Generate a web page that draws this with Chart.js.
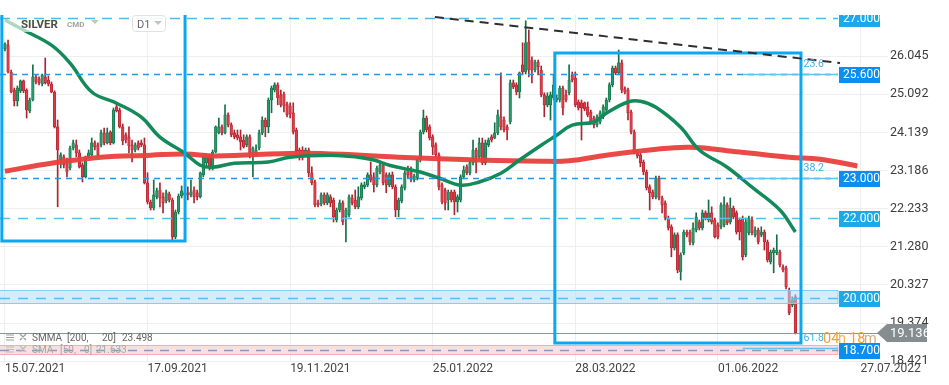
<!DOCTYPE html>
<html>
<head>
<meta charset="utf-8">
<script src="https://cdn.jsdelivr.net/npm/chart.js@4.4.1/dist/chart.umd.min.js"></script>
<style>
  html, body { margin: 0; padding: 0; background: #fff; }
  #wrap { width: 949px; height: 385px; }
</style>
</head>
<body>
<div id="wrap"><canvas id="chart" width="949" height="385"></canvas></div>
<script>
// x axis: candle index, date labels at some of them
const dateLabels = ['15.07.2021', '17.09.2021', '19.11.2021', '25.01.2022', '28.03.2022', '01.06.2022', '27.07.2022'];
const dateIdx = [0, 46, 92, 138, 184, 230, 276];
const priceTicks = [26.045, 25.092, 24.139, 23.186, 22.233, 21.280, 20.327, 19.374, 18.421];

// daily candles
const open = [
  26.23, 26.33, 25.65, 25.20, 24.93, 25.18, 25.43, 25.20, 24.68, 24.95,
  25.53, 25.48, 25.35, 25.53, 25.45, 25.35, 25.15, 24.28, 23.45, 23.53,
  23.45, 23.25, 23.75, 23.83, 23.63, 23.33, 23.03, 23.53, 23.58, 23.88,
  23.83, 23.83, 24.13, 23.88, 24.15, 23.88, 24.78, 24.70, 24.28, 24.08,
  24.03, 23.83, 23.70, 23.88, 23.88, 23.83, 22.88, 22.40, 22.25, 22.53,
  22.70, 22.53, 22.43, 22.60, 22.45, 21.53, 22.15, 22.55, 22.63, 22.63,
  22.58, 22.70, 22.63, 22.53, 23.08, 23.38, 23.53, 23.25, 23.65, 24.13,
  24.28, 24.13, 24.58, 24.33, 24.13, 24.08, 24.03, 23.95, 23.83, 24.03,
  23.58, 23.63, 23.75, 24.13, 24.45, 24.28, 24.95, 25.20, 25.33, 25.08,
  25.10, 24.85, 24.80, 24.63, 24.20, 23.70, 23.70, 23.58, 23.70, 23.13,
  22.90, 22.38, 22.35, 22.58, 22.38, 22.53, 22.45, 21.95, 22.20, 22.38,
  22.03, 22.08, 22.50, 22.45, 22.28, 22.50, 22.78, 22.83, 23.08, 23.03,
  22.83, 23.15, 23.33, 23.08, 22.83, 23.08, 22.78, 22.20, 22.43, 22.75,
  23.20, 23.15, 22.95, 23.00, 23.45, 24.15, 24.50, 24.28, 24.03, 23.83,
  23.58, 22.83, 22.70, 22.45, 22.65, 22.65, 22.40, 22.45, 23.03, 23.28,
  23.13, 23.38, 23.70, 23.53, 23.88, 23.38, 23.83, 24.03, 24.00, 24.13,
  24.53, 24.45, 24.28, 24.40, 25.38, 25.33, 25.15, 25.83, 25.65, 26.40,
  25.95, 25.70, 25.90, 25.70, 25.08, 24.83, 24.83, 25.00, 24.95, 24.95,
  25.25, 25.08, 25.13, 25.58, 25.50, 24.90, 24.88, 24.88, 24.78, 24.65,
  24.50, 24.33, 24.40, 24.53, 24.70, 24.95, 25.33, 25.75, 25.63, 25.88,
  25.23, 25.20, 24.65, 24.15, 23.65, 23.58, 23.40, 23.15, 22.78, 22.65,
  22.53, 23.00, 22.50, 22.38, 22.00, 21.78, 21.25, 21.58, 20.65, 21.13,
  21.65, 21.65, 21.38, 21.70, 21.90, 21.75, 22.13, 21.95, 22.13, 21.95,
  21.83, 21.78, 21.83, 22.33, 21.90, 22.25, 22.13, 21.95, 22.00, 21.08,
  21.63, 21.95, 21.58, 21.70, 21.58, 21.65, 21.40, 20.90, 21.13, 21.13,
  21.15, 20.78, 20.75, 20.20, 19.83, 20.03
];
const close = [
  26.35, 25.65, 25.15, 24.93, 25.25, 25.43, 25.18, 24.70, 24.95, 25.53,
  25.40, 25.38, 25.58, 25.38, 25.35, 25.15, 24.28, 23.70, 23.58, 23.33,
  23.15, 23.75, 23.88, 23.63, 23.28, 23.03, 23.53, 23.63, 23.88, 23.78,
  23.58, 24.13, 23.88, 24.13, 23.88, 24.70, 24.68, 24.28, 23.93, 23.95,
  23.80, 23.70, 23.83, 23.75, 23.83, 22.88, 22.40, 22.25, 22.58, 22.68,
  22.50, 22.38, 22.63, 22.45, 21.53, 22.15, 22.55, 22.68, 22.58, 22.58,
  22.65, 22.53, 22.53, 23.13, 23.53, 23.53, 23.25, 23.65, 24.28, 24.28,
  24.13, 24.58, 24.33, 24.08, 24.03, 24.00, 23.90, 23.78, 24.03, 23.58,
  23.75, 23.70, 24.13, 24.45, 24.28, 24.95, 25.25, 25.33, 25.00, 24.83,
  24.80, 24.58, 24.60, 24.15, 23.68, 23.65, 23.58, 23.70, 23.13, 22.88,
  22.33, 22.33, 22.58, 22.38, 22.58, 22.38, 22.03, 22.20, 22.38, 21.90,
  22.20, 22.53, 22.38, 22.28, 22.53, 22.83, 22.83, 23.08, 22.95, 22.83,
  23.25, 23.33, 22.88, 22.83, 23.08, 22.78, 22.20, 22.45, 22.78, 23.13,
  23.08, 23.00, 23.05, 23.45, 24.15, 24.50, 24.20, 24.00, 23.78, 23.58,
  22.78, 22.40, 22.38, 22.65, 22.45, 22.40, 22.53, 23.03, 23.20, 23.13,
  23.38, 23.70, 23.53, 23.88, 23.38, 23.88, 23.95, 23.95, 24.13, 24.58,
  24.28, 24.20, 24.20, 25.38, 25.28, 25.15, 25.63, 25.65, 26.38, 25.70,
  25.70, 25.90, 25.78, 25.08, 24.83, 25.05, 25.08, 25.33, 25.00, 25.25,
  24.75, 24.95, 25.45, 25.45, 24.83, 24.75, 24.75, 24.73, 24.58, 24.40,
  24.33, 24.53, 24.63, 24.78, 24.95, 25.33, 25.75, 25.63, 25.88, 25.20,
  25.15, 24.63, 24.15, 23.65, 23.55, 23.38, 23.15, 22.75, 22.63, 22.53,
  23.00, 22.50, 22.33, 22.00, 21.75, 21.25, 21.58, 20.70, 21.08, 21.65,
  21.58, 21.40, 21.75, 22.03, 21.75, 22.13, 22.00, 22.13, 21.90, 21.53,
  21.53, 22.33, 22.33, 21.88, 22.25, 22.03, 21.65, 21.65, 21.03, 21.90,
  22.00, 21.63, 21.70, 21.40, 21.65, 21.40, 20.95, 21.15, 21.20, 21.20,
  20.83, 20.70, 20.28, 19.63, 19.95, 19.136
];
const high = [
  26.38, 26.45, 25.70, 25.25, 25.30, 25.45, 25.45, 25.23, 25.00, 25.83,
  25.58, 25.53, 25.60, 26.00, 25.55, 25.40, 25.18, 24.45, 23.63, 23.58,
  23.50, 23.80, 23.95, 23.95, 23.70, 23.38, 23.55, 23.70, 24.00, 23.93,
  23.88, 24.20, 24.25, 24.25, 24.18, 24.75, 24.83, 24.75, 24.35, 24.13,
  24.28, 23.95, 23.88, 23.93, 23.95, 24.00, 23.13, 22.45, 22.95, 22.75,
  22.88, 22.63, 22.70, 22.65, 22.50, 22.20, 22.60, 22.80, 22.70, 22.78,
  22.95, 22.78, 22.70, 23.15, 23.58, 23.58, 23.58, 23.70, 24.30, 24.50,
  24.33, 24.83, 24.63, 24.38, 24.20, 24.20, 24.20, 24.08, 24.08, 24.08,
  23.78, 23.83, 24.20, 24.53, 24.50, 25.00, 25.30, 25.38, 25.38, 25.20,
  25.15, 24.90, 24.88, 24.88, 24.25, 23.75, 23.78, 23.75, 23.75, 23.28,
  22.95, 22.45, 22.63, 22.63, 22.63, 22.58, 22.50, 22.25, 22.45, 22.43,
  22.25, 22.58, 22.58, 22.70, 22.78, 22.88, 22.90, 23.13, 23.40, 23.13,
  23.30, 23.40, 23.38, 23.13, 23.13, 23.15, 22.83, 22.50, 22.83, 23.18,
  23.30, 23.28, 23.10, 23.50, 24.20, 24.70, 24.55, 24.33, 24.08, 23.88,
  23.63, 22.88, 22.75, 22.70, 22.70, 22.70, 22.58, 23.08, 23.30, 23.33,
  23.45, 23.95, 23.75, 24.00, 24.00, 23.95, 24.00, 24.08, 24.38, 24.70,
  25.63, 24.53, 24.33, 25.45, 25.45, 25.38, 25.65, 26.38, 26.93, 26.70,
  26.03, 25.95, 25.95, 25.80, 25.13, 25.13, 25.15, 25.58, 25.08, 25.30,
  25.30, 25.20, 25.83, 25.65, 25.65, 24.95, 24.95, 24.90, 24.90, 24.70,
  24.55, 24.58, 24.68, 24.83, 25.00, 25.38, 25.80, 25.80, 26.20, 25.95,
  25.28, 25.25, 24.70, 24.20, 23.70, 23.63, 23.45, 23.20, 22.83, 22.70,
  23.05, 23.05, 22.55, 22.43, 22.05, 21.83, 21.63, 21.63, 21.13, 21.70,
  21.70, 21.70, 21.88, 22.13, 21.95, 22.20, 22.18, 22.45, 22.28, 22.00,
  21.88, 22.38, 22.53, 22.38, 22.50, 22.30, 22.18, 22.00, 22.05, 22.00,
  22.05, 22.03, 21.78, 21.75, 21.78, 21.70, 21.45, 21.20, 21.25, 21.58,
  21.20, 20.83, 20.80, 20.25, 20.03, 20.08
];
const low = [
  26.18, 25.63, 25.13, 24.80, 24.80, 25.13, 25.13, 24.50, 24.63, 24.93,
  25.35, 25.33, 25.30, 25.35, 25.30, 25.13, 24.25, 22.28, 23.25, 23.25,
  23.03, 23.20, 23.70, 23.53, 23.25, 22.90, 23.00, 23.50, 23.55, 23.70,
  23.53, 23.78, 23.83, 23.85, 23.83, 23.85, 24.65, 24.25, 23.83, 23.88,
  23.63, 23.40, 23.65, 23.70, 23.78, 22.85, 22.35, 22.20, 22.20, 22.48,
  22.28, 22.13, 22.38, 22.40, 21.45, 21.48, 22.10, 22.50, 22.53, 22.45,
  22.53, 22.38, 22.45, 22.50, 23.03, 23.28, 23.20, 23.20, 23.63, 24.10,
  24.08, 24.10, 24.28, 24.03, 23.98, 23.95, 23.70, 23.75, 23.78, 23.50,
  23.03, 23.55, 23.70, 24.08, 24.03, 24.13, 24.63, 25.15, 24.83, 24.78,
  24.65, 24.53, 24.50, 24.10, 23.58, 23.45, 23.45, 23.53, 23.03, 22.83,
  22.28, 22.28, 22.30, 22.33, 22.33, 22.28, 21.90, 21.90, 22.15, 21.83,
  21.40, 22.03, 22.33, 22.23, 22.23, 22.45, 22.73, 22.78, 22.90, 22.65,
  22.78, 23.10, 22.83, 22.63, 22.78, 22.73, 22.03, 22.03, 22.38, 22.70,
  23.00, 22.90, 22.90, 22.95, 23.40, 24.10, 24.15, 23.95, 23.58, 23.53,
  22.70, 22.35, 22.20, 22.20, 22.40, 22.08, 22.15, 22.40, 22.98, 23.08,
  23.08, 23.33, 23.13, 23.48, 23.33, 23.33, 23.78, 23.90, 23.98, 24.08,
  24.20, 24.15, 23.95, 24.35, 25.23, 25.08, 25.00, 25.58, 25.60, 25.53,
  25.38, 25.65, 25.58, 25.03, 24.53, 24.78, 24.45, 24.95, 24.90, 24.90,
  24.58, 24.90, 25.08, 25.40, 24.78, 24.70, 23.95, 24.68, 24.53, 24.35,
  24.25, 24.28, 24.35, 24.48, 24.65, 24.90, 25.28, 25.58, 25.58, 25.13,
  25.10, 24.45, 24.10, 23.60, 23.50, 23.28, 23.08, 22.70, 22.20, 22.48,
  22.48, 22.45, 22.13, 21.95, 21.70, 21.03, 21.20, 20.63, 20.45, 21.08,
  21.53, 21.33, 21.33, 21.65, 21.70, 21.70, 21.95, 21.90, 21.85, 21.50,
  21.48, 21.73, 21.78, 21.83, 21.85, 21.98, 21.60, 21.45, 20.95, 21.03,
  21.58, 21.58, 21.53, 21.35, 21.53, 21.20, 20.90, 20.85, 20.63, 21.08,
  20.78, 20.65, 20.23, 19.58, 19.78, 19.10
];

// SMA 50 and SMMA 200 (shifted 20 bars), sampled along the drawn curves
const smaIdx = [0, 6, 15, 21, 28, 36, 44, 50, 58, 63, 67, 74, 85, 92, 105, 114, 119, 124, 131, 134, 140, 147, 153, 160, 166, 173, 178, 183, 190, 194, 201, 205, 210, 218, 224, 233, 241, 250, 255];
const smaVal = [26.95, 26.70, 26.32, 25.87, 25.15, 24.87, 24.52, 24.02, 23.62, 23.32, 23.27, 23.37, 23.40, 23.52, 23.57, 23.52, 23.45, 23.32, 23.20, 23.15, 23.00, 22.82, 22.90, 23.12, 23.45, 23.82, 24.07, 24.32, 24.40, 24.62, 24.90, 24.92, 24.77, 24.27, 23.70, 23.27, 22.77, 22.20, 21.65];
const smmaIdx = [0, 15, 31, 47, 58, 68, 95, 115, 127, 153, 173, 182, 194, 208, 221, 237, 253, 263, 275];
const smmaVal = [23.17, 23.37, 23.52, 23.57, 23.60, 23.55, 23.62, 23.57, 23.52, 23.45, 23.42, 23.43, 23.57, 23.70, 23.77, 23.65, 23.52, 23.47, 23.30];

// drawings on the chart
const levels = [27.0, 25.6, 23.0, 22.0, 20.0, 18.7];
const zone20 = [19.85, 20.2];
const zone187 = [18.575, 18.825];
const fibNames = ['23.6', '38.2', '61.8'];
const fibVals = [25.59, 23.01, 18.75];
const fibStart = 238;
const trendIdx = [138.7, 269.4];
const trendVal = [27.025, 25.875];
const boxIdx = [[-1, 58.1], [177.4, 256.8]];
const boxVal = [[21.425, 27.6], [18.875, 26.125]];
const lastPrice = 19.136;
const smmaLegend = ['SMMA', '[200,', '20]', '23.498'];
const smaLegend = ['SMA', '[50,', '0]', '21.633'];

const GREEN = '#27996a', GREEN_D = '#146f47';
const RED = '#de3c46', RED_D = '#ad2330';
const up = i => close[i] >= open[i];

const bodies = open.map((o, i) => ({ x: i, y: [o, close[i]] }));
const wicks = open.map((o, i) => ({ x: i, y: [low[i], high[i]] }));
const smaPts = smaIdx.map((v, k) => ({ x: v, y: smaVal[k] }));
const smmaPts = smmaIdx.map((v, k) => ({ x: v, y: smmaVal[k] }));

const levelStyle = [
  { line: '#52b9ef', dash: [10, 7], box: '#1ea8ec' },
  { line: '#2b95dc', dash: [6, 5], box: '#0b8df2' },
  { line: '#2b95dc', dash: [6, 5], box: '#0b8df2' },
  { line: '#56bff2', dash: [10, 8], box: '#1ea8ec' },
  { line: '#56bff2', dash: [10, 8], box: '#1ea8ec' },
  { line: '#8d9bbb', dash: [9, 7], box: '#0b8df2' }
];

const overlay = {
  id: 'overlay',
  afterDatasetsDraw(chart) {
    const { ctx, chartArea: a, scales: { x, y } } = chart;
    const lineEnd = a.right - 42;
    ctx.save();
    ctx.beginPath();
    ctx.rect(a.left, a.top, a.right - a.left, a.bottom - a.top);
    ctx.clip();

    // faded area behind the instrument title
    ctx.fillStyle = 'rgba(255,255,255,0.65)';
    ctx.fillRect(0, a.top, 62, 17);

    // zones
    const zone = (z, fill, edge) => {
      const y0 = y.getPixelForValue(z[1]), y1 = y.getPixelForValue(z[0]);
      ctx.fillStyle = fill;
      ctx.fillRect(a.left, y0, lineEnd - a.left, y1 - y0);
      ctx.strokeStyle = edge;
      ctx.lineWidth = 1;
      ctx.strokeRect(a.left - 1, y0 + 0.5, lineEnd - a.left + 1, y1 - y0 - 1);
    };
    zone(zone20, 'rgba(176,221,247,0.55)', 'rgba(130,203,242,0.9)');
    zone(zone187, 'rgba(249,205,209,0.65)', 'rgba(240,168,176,0.9)');

    // current price line
    const py = y.getPixelForValue(lastPrice);
    ctx.strokeStyle = '#8c959a';
    ctx.lineWidth = 1;
    ctx.beginPath();
    ctx.moveTo(a.left, Math.round(py) + 0.5);
    ctx.lineTo(a.right, Math.round(py) + 0.5);
    ctx.stroke();

    // level lines
    levels.forEach((v, k) => {
      const p = Math.round(y.getPixelForValue(v)) + 0.5;
      ctx.strokeStyle = levelStyle[k].line;
      ctx.lineWidth = 1.3;
      ctx.setLineDash(levelStyle[k].dash);
      ctx.beginPath();
      ctx.moveTo(a.left, p);
      ctx.lineTo(lineEnd, p);
      ctx.stroke();
    });
    ctx.setLineDash([]);

    // fibonacci lines
    ctx.strokeStyle = '#5ec2f3';
    ctx.lineWidth = 1.3;
    fibVals.forEach(v => {
      const p = Math.round(y.getPixelForValue(v)) + 0.5;
      ctx.beginPath();
      ctx.moveTo(x.getPixelForValue(fibStart), p);
      ctx.lineTo(lineEnd, p);
      ctx.stroke();
    });

    // rectangles
    ctx.strokeStyle = '#0aa8f0';
    ctx.lineWidth = 3;
    boxIdx.forEach((b, k) => {
      const x0 = x.getPixelForValue(b[0]), x1 = x.getPixelForValue(b[1]);
      const y0 = y.getPixelForValue(boxVal[k][1]), y1 = y.getPixelForValue(boxVal[k][0]);
      ctx.strokeRect(x0, y0, x1 - x0, y1 - y0);
    });

    // trend line
    ctx.strokeStyle = '#2e2e2e';
    ctx.lineWidth = 2;
    ctx.setLineDash([9, 6]);
    ctx.beginPath();
    ctx.moveTo(x.getPixelForValue(trendIdx[0]), y.getPixelForValue(trendVal[0]));
    ctx.lineTo(x.getPixelForValue(trendIdx[1]), y.getPixelForValue(trendVal[1]));
    ctx.stroke();
    ctx.restore();
  },
  afterDraw(chart) {
    const { ctx, chartArea: a, scales: { y } } = chart;
    ctx.save();
    ctx.textBaseline = 'alphabetic';

    // title
    ctx.fillStyle = '#4d4d4d';
    ctx.font = 'bold 11.5px Roboto';
    ctx.fillText('SILVER', 21, 28);
    ctx.fillStyle = '#a3a3a3';
    ctx.font = 'bold 8px Roboto';
    ctx.fillText('CMD', 67, 27);
    const tri = (cx, cy, col) => {
      ctx.fillStyle = col;
      ctx.beginPath();
      ctx.moveTo(cx - 4, cy - 2); ctx.lineTo(cx + 4, cy - 2); ctx.lineTo(cx, cy + 2);
      ctx.closePath(); ctx.fill();
    };
    tri(95, 22, '#c4c4c4');
    ctx.fillStyle = 'rgba(255,255,255,0.9)';
    ctx.strokeStyle = '#e1e1e1';
    ctx.lineWidth = 1;
    ctx.beginPath();
    ctx.roundRect(132.5, 15.5, 33, 16, 3);
    ctx.fill(); ctx.stroke();
    ctx.fillStyle = '#666';
    ctx.font = '11px Roboto';
    ctx.fillText('D1', 137, 28);
    tri(158, 23, '#c4c4c4');

    // indicator legend rows
    const icons = (yy, col) => {
      ctx.strokeStyle = col;
      ctx.lineWidth = 1.2;
      ctx.beginPath();
      for (let k = 0; k < 3; k++) { ctx.moveTo(6, yy - 6 + k * 2.5); ctx.lineTo(14, yy - 6 + k * 2.5); }
      ctx.moveTo(20, yy - 7); ctx.lineTo(26, yy - 1);
      ctx.moveTo(26, yy - 7); ctx.lineTo(20, yy - 1);
      ctx.stroke();
    };
    const legendX = [32, 67, 102, 122];
    icons(341, '#9a9a9a');
    ctx.font = '10px Roboto';
    ctx.fillStyle = '#666';
    smmaLegend.forEach((t, k) => ctx.fillText(t, legendX[k], 341));
    icons(353, '#c3b8bb');
    ctx.fillStyle = '#aaa5a8';
    const legendX2 = [32, 60, 84, 96];
    smaLegend.forEach((t, k) => ctx.fillText(t, legendX2[k], 353));

    // fibonacci labels
    ctx.fillStyle = '#43aee6';
    ctx.font = '10.5px Roboto';
    ctx.textAlign = 'right';
    fibVals.forEach((v, k) => {
      const p = y.getPixelForValue(v);
      ctx.fillText(fibNames[k], a.right - 56, p - 7);
    });
    ctx.textAlign = 'left';

    // price boxes
    ctx.save();
    ctx.beginPath();
    ctx.rect(0, a.top, chart.width, chart.height - a.top);
    ctx.clip();
    ctx.font = '12px Roboto';
    ctx.textBaseline = 'middle';
    levels.forEach((v, k) => {
      const p = Math.round(y.getPixelForValue(v));
      ctx.fillStyle = levelStyle[k].box;
      ctx.fillRect(a.right - 41, p - 7, 41, 16);
      ctx.fillStyle = '#fff';
      ctx.fillText(v.toFixed(3), a.right - 37, p + 1);
    });
    ctx.restore();

    // candle countdown
    ctx.textBaseline = 'alphabetic';
    ctx.font = '14.5px Roboto';
    ctx.fillStyle = '#f6a12c';
    ctx.fillText('04', 823, 343);
    ctx.fillStyle = '#f3b561';
    ctx.fillText('h', 838, 343);
    ctx.fillStyle = '#f6a12c';
    ctx.fillText('18', 849, 343);
    ctx.fillStyle = '#cfae8c';
    ctx.fillText('m', 864, 343);

    // last price tag
    const py = Math.round(y.getPixelForValue(lastPrice));
    ctx.fillStyle = '#858d91';
    ctx.beginPath();
    ctx.moveTo(a.right - 3, py);
    ctx.lineTo(a.right + 7, py - 9);
    ctx.lineTo(a.right + 47, py - 9);
    ctx.lineTo(a.right + 47, py + 9);
    ctx.lineTo(a.right + 7, py + 9);
    ctx.closePath();
    ctx.fill();
    ctx.fillStyle = '#fff';
    ctx.font = '13px Roboto';
    ctx.textBaseline = 'middle';
    ctx.fillText(lastPrice.toFixed(3), a.right + 10, py + 1);
    ctx.restore();
  }
};

Chart.defaults.font.family = 'Roboto';

new Chart(document.getElementById('chart'), {
  data: {
    datasets: [
      {
        type: 'line', data: smaPts, borderColor: '#138a59', borderWidth: 3.5,
        pointRadius: 0, tension: 0.4, order: 0
      },
      {
        type: 'line', data: smmaPts, borderColor: 'rgba(232,64,60,0.95)', borderWidth: 5,
        pointRadius: 0, tension: 0.4, order: 1
      },
      {
        type: 'bar', data: bodies, grouped: false, order: 2,
        barThickness: 2.6, borderWidth: 0.7, borderSkipped: false,
        backgroundColor: c => up(c.dataIndex) ? GREEN : RED,
        borderColor: c => up(c.dataIndex) ? GREEN_D : RED_D
      },
      {
        type: 'bar', data: wicks, grouped: false, order: 3,
        barThickness: 1,
        backgroundColor: c => up(c.dataIndex) ? GREEN_D : RED_D
      }
    ]
  },
  options: {
    responsive: false,
    devicePixelRatio: 1,
    animation: false,
    layout: { padding: { top: 15, left: 0, right: 0, bottom: 0 } },
    plugins: { legend: { display: false }, tooltip: { enabled: false } },
    scales: {
      x: {
        type: 'linear',
        position: 'bottom',
        offset: false,
        min: -1.6,
        max: 282.3,
        border: { display: false },
        grid: { color: '#eeeeee', drawTicks: false, offset: false },
        afterBuildTicks: s => { s.ticks = dateIdx.map(v => ({ value: v })); },
        afterFit: s => { s.height = 24; },
        ticks: {
          autoSkip: false, maxRotation: 0, align: 'start', padding: 1,
          color: '#444', font: { size: 12 },
          callback: v => dateLabels[dateIdx.indexOf(v)]
        }
      },
      y: {
        type: 'linear',
        position: 'right',
        min: 18.425,
        max: 27.075,
        border: { display: false },
        grid: { color: '#eeeeee', tickLength: 8 },
        afterBuildTicks: s => { s.ticks = priceTicks.map(v => ({ value: v })); },
        afterFit: s => { s.width = 69; },
        ticks: {
          padding: 2, color: '#3d3d3d', font: { size: 12.5 },
          callback: v => v.toFixed(3)
        }
      }
    }
  },
  plugins: [overlay]
});
</script>
</body>
</html>
